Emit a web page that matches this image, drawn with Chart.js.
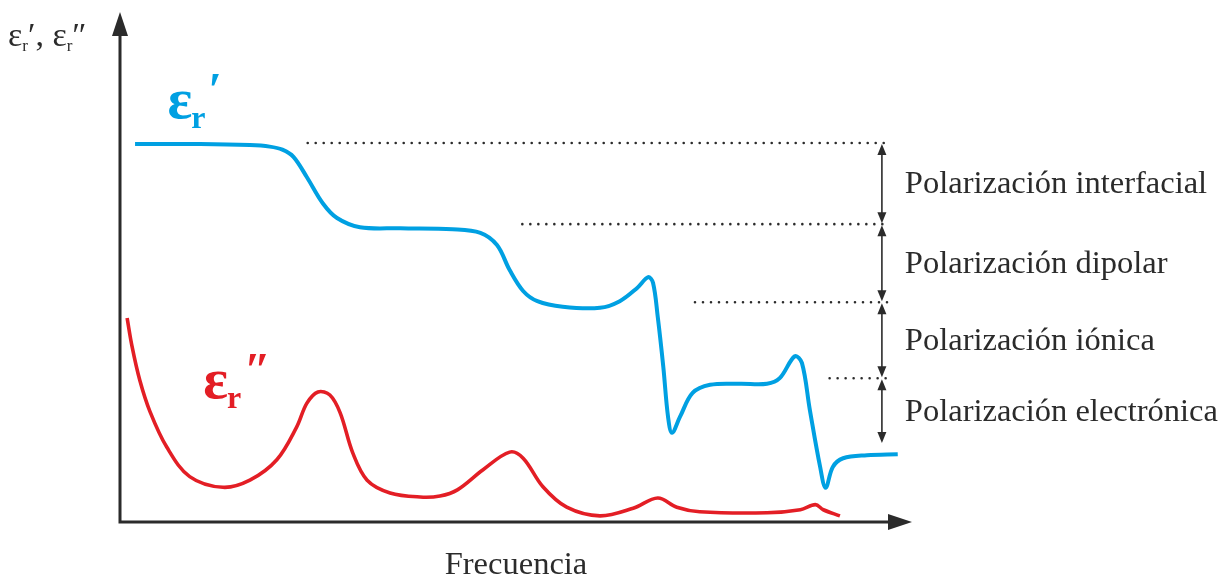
<!DOCTYPE html>
<html>
<head>
<meta charset="utf-8">
<script src="https://cdn.jsdelivr.net/npm/chart.js@4.4.0/dist/chart.umd.min.js"></script>
<style>
  html, body { margin: 0; padding: 0; background: #fff; }
</style>
</head>
<body>
<canvas id="chart" width="1227" height="577"></canvas>
<script>
const realX = [1.9, 10.1, 16.4, 18.9, 20.5, 21.9, 23.6, 25.6, 27.4, 30.3, 35.4, 42.0, 45.5, 47.6, 49.2, 50.9, 52.7, 55.9, 60.6, 63.1, 65.3, 66.7, 67.3, 67.9, 68.6, 69.2, 69.7, 70.7, 72.3, 74.5, 78.3, 81.7, 83.3, 85.2, 86.1, 87.1, 88.4, 89.1, 90.0, 91.3, 94.3, 98.2];
const realY = [74.1, 74.1, 73.9, 73.6, 73.0, 71.6, 67.6, 62.5, 59.6, 57.8, 57.6, 57.4, 56.7, 54.3, 49.4, 45.3, 43.3, 42.2, 42.0, 43.3, 45.9, 48.0, 46.9, 40.2, 30.4, 20.6, 17.5, 20.6, 25.3, 26.9, 27.1, 27.1, 28.2, 32.5, 31.2, 22.0, 10.8, 6.7, 10.8, 12.5, 13.1, 13.3];

// eps'' (loss)
const lossX = [0.9, 1.5, 2.5, 3.8, 5.9, 8.8, 13.0, 16.4, 19.8, 22.3, 23.6, 25.0, 26.5, 27.8, 29.4, 31.2, 34.1, 37.9, 40.4, 42.6, 45.8, 49.2, 50.9, 53.4, 56.4, 60.6, 64.8, 67.9, 70.3, 73.2, 81.7, 85.9, 87.8, 88.8, 90.9];
const lossY = [40.0, 34.6, 27.8, 21.6, 14.7, 8.9, 6.8, 8.2, 12.2, 18.6, 23.3, 25.5, 24.9, 21.4, 13.5, 8.2, 5.7, 4.9, 5.1, 6.3, 10.2, 13.7, 12.5, 6.9, 2.9, 1.2, 2.7, 4.7, 2.9, 2.0, 1.8, 2.4, 3.4, 2.4, 1.2];

// polarization steps: levels of the plateaus and where the dotted guides start
const mechanisms = ["Polarización interfacial", "Polarización dipolar", "Polarización iónica", "Polarización electrónica"];
const levels = [74.3, 58.4, 43.1, 28.2];
const lastLevel = 15.3;
const guideStart = [23.7, 50.8, 72.6, 89.6];
const guideEnd = 97.2;
const spanX = 96.2;
const labelX = 99.1;

const blue = "#00a0e2";
const red = "#e31e25";
const ink = "#2b2b2b";
const serif = "'Liberation Serif', 'Times New Roman', serif";

const pts = (xs, ys) => xs.map((x, i) => ({ x: x, y: ys[i] }));

const guides = levels.map((lv, i) => ({
  data: [{ x: guideStart[i], y: lv }, { x: guideEnd, y: lv }],
  borderColor: ink,
  borderWidth: 2.6,
  borderDash: [0, 8],
  borderCapStyle: "round",
  pointRadius: 0,
  clip: false
}));

function tag(ctx, px, py, color, mark) {
  ctx.fillStyle = color;
  ctx.font = "bold 58px " + serif;
  ctx.textBaseline = "alphabetic";
  ctx.textAlign = "left";
  ctx.fillText("ε", px, py);
  let w = ctx.measureText("ε").width;
  ctx.font = "bold 32px " + serif;
  ctx.fillText("r", px + w - 1, py + 10);
  w += ctx.measureText("r").width;
  ctx.font = "bold 48px " + serif;
  ctx.fillText(mark, px + w + 2, py - 12);
}

const decor = {
  id: "decor",
  beforeDatasetsDraw(chart) {
    const { ctx, chartArea: a } = chart;
    ctx.save();
    ctx.strokeStyle = ink;
    ctx.fillStyle = ink;
    ctx.lineWidth = 3;
    ctx.beginPath();
    ctx.moveTo(a.left, a.bottom + 1.5);
    ctx.lineTo(a.left, a.top + 20);
    ctx.moveTo(a.left - 1.5, a.bottom);
    ctx.lineTo(a.right - 20, a.bottom);
    ctx.stroke();
    ctx.beginPath();
    ctx.moveTo(a.left, a.top);
    ctx.lineTo(a.left - 8, a.top + 24);
    ctx.lineTo(a.left + 8, a.top + 24);
    ctx.closePath();
    ctx.fill();
    ctx.beginPath();
    ctx.moveTo(a.right, a.bottom);
    ctx.lineTo(a.right - 24, a.bottom - 8);
    ctx.lineTo(a.right - 24, a.bottom + 8);
    ctx.closePath();
    ctx.fill();
    ctx.restore();
  },
  afterDatasetsDraw(chart) {
    const { ctx, chartArea: a, scales: { x, y } } = chart;
    ctx.save();
    ctx.strokeStyle = ink;
    ctx.fillStyle = ink;

    // double arrows between the levels
    const ends = levels.concat([lastLevel]);
    const ax = x.getPixelForValue(spanX);
    const head = (tipY, dir) => {
      ctx.beginPath();
      ctx.moveTo(ax, tipY);
      ctx.lineTo(ax - 4.5, tipY + dir * 11);
      ctx.lineTo(ax + 4.5, tipY + dir * 11);
      ctx.closePath();
      ctx.fill();
    };
    ctx.lineWidth = 1.6;
    for (let i = 0; i < levels.length; i++) {
      const t = y.getPixelForValue(ends[i]) + 1;
      const b = y.getPixelForValue(ends[i + 1]) - 1;
      ctx.beginPath();
      ctx.moveTo(ax, t + 4);
      ctx.lineTo(ax, b - 4);
      ctx.stroke();
      head(t, 1);
      head(b, -1);
    }

    // mechanism labels
    ctx.font = "32.5px " + serif;
    ctx.textBaseline = "middle";
    ctx.textAlign = "left";
    mechanisms.forEach((m, i) => {
      const mid = (ends[i] + ends[i + 1]) / 2;
      ctx.fillText(m, x.getPixelForValue(labelX), y.getPixelForValue(mid) + 1);
    });

    // axis titles
    ctx.textAlign = "center";
    ctx.textBaseline = "alphabetic";
    ctx.font = "32.5px " + serif;
    ctx.fillText("Frecuencia", (a.left + a.right) / 2, a.bottom + 52);

    ctx.textAlign = "left";
    let px = 8;
    const base = 46;
    const piece = (s, size, dy) => {
      ctx.font = size + "px " + serif;
      ctx.fillText(s, px, base + dy);
      px += ctx.measureText(s).width;
    };
    piece("ε", 34, 0);
    piece("r", 17, 5);
    piece("′, ", 34, 0);
    piece("ε", 34, 0);
    piece("r", 17, 5);
    piece("″", 34, 0);

    // curve tags
    tag(ctx, x.getPixelForValue(6.0), y.getPixelForValue(79.2), blue, "′");
    tag(ctx, x.getPixelForValue(10.5), y.getPixelForValue(24.3), red, "″");
    ctx.restore();
  }
};

new Chart(document.getElementById("chart"), {
  type: "line",
  data: {
    datasets: [
      {
        label: "εr′",
        data: pts(realX, realY),
        borderColor: blue,
        borderWidth: 4,
        pointRadius: 0,
        tension: 0.35,
        clip: false
      },
      {
        label: "εr″",
        data: pts(lossX, lossY),
        borderColor: red,
        borderWidth: 3.6,
        pointRadius: 0,
        tension: 0.35,
        clip: false
      }
    ].concat(guides)
  },
  options: {
    responsive: false,
    animation: false,
    layout: { padding: { left: 120, right: 315, top: 12, bottom: 55 } },
    scales: {
      x: { type: "linear", min: 0, max: 100, display: false },
      y: { type: "linear", min: 0, max: 100, display: false }
    },
    plugins: {
      legend: { display: false },
      tooltip: { enabled: false }
    }
  },
  plugins: [decor]
});
</script>
</body>
</html>
